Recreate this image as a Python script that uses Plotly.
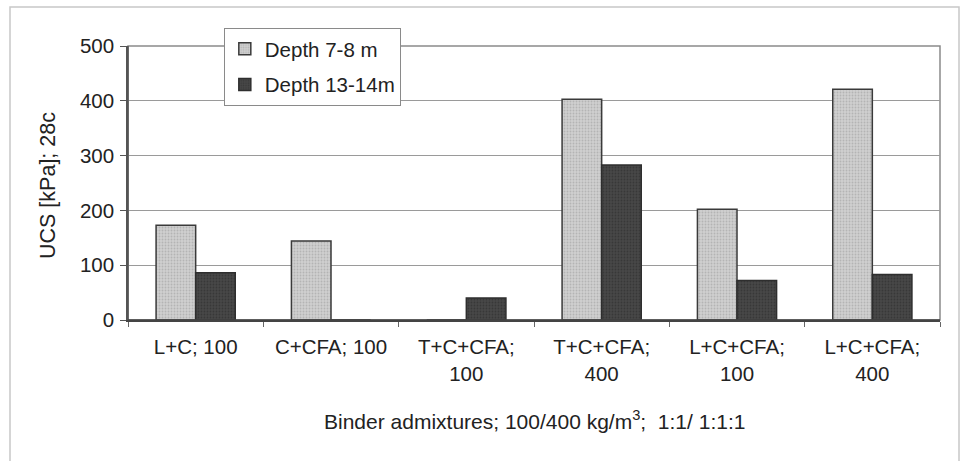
import plotly.graph_objects as go

categories = ["L+C; 100", "C+CFA; 100", "T+C+CFA;<br>100", "T+C+CFA;<br>400", "L+C+CFA;<br>100", "L+C+CFA;<br>400"]
depth_7_8 = [173, 144, 0, 403, 202, 421]
depth_13_14 = [86, 0, 40, 283, 72, 83]
series_names = ["Depth 7-8 m", "Depth 13-14m"]
y_ticks = [0, 100, 200, 300, 400, 500]

FONT = "Liberation Sans, Arial, sans-serif"

fig = go.Figure()
fig.add_trace(go.Bar(
    x=categories, y=depth_7_8, name=series_names[0], legendgroup="a",
    marker=dict(color="#c6c6c6", line=dict(color="#3a3a3a", width=1.5),
                pattern=dict(shape=".", fgcolor="#9a9a9a", bgcolor="#cfcfcf", size=3, solidity=0.3)),
))
fig.add_trace(go.Bar(
    x=categories, y=depth_13_14, name=series_names[1], legendgroup="b",
    marker=dict(color="#3e3e3e", line=dict(color="#2e2e2e", width=1.5),
                pattern=dict(shape=".", fgcolor="#2a2a2a", bgcolor="#474747", size=3, solidity=0.3)),
))

fig.update_layout(
    width=961, height=461,
    margin=dict(l=128, r=21, t=46, b=141),
    paper_bgcolor="white", plot_bgcolor="white",
    font=dict(family=FONT, size=20, color="#222222"),
    barmode="group", bargap=0.415, bargroupgap=0,
    showlegend=True,
    legend=dict(
        x=0.118, y=1.066, xanchor="left", yanchor="top",
        bgcolor="white", bordercolor="#8a8a8a", borderwidth=1,
        font=dict(family=FONT, size=20.5, color="#222222"),
        traceorder="grouped", tracegroupgap=6,
        itemwidth=30,
    ),
    xaxis=dict(
        showgrid=False, tickson="boundaries", ticks="outside", ticklen=5,
        tickcolor="#666666", showline=True, linecolor="#444444", linewidth=1.5,
        mirror=False, tickfont=dict(size=20.5), ticklabelstandoff=8,
    ),
    yaxis=dict(
        range=[0, 500], tickvals=y_ticks, ticks="outside", ticklen=6,
        tickcolor="#555555", showgrid=True, gridcolor="#9a9a9a", gridwidth=1,
        showline=True, linecolor="#555555", linewidth=1.5, mirror=False,
        zeroline=False, tickfont=dict(size=20.5), ticklabelstandoff=2,
    ),
    shapes=[
        dict(type="rect", xref="paper", yref="paper", x0=0, x1=1, y0=0, y1=1,
             line=dict(color="#8a8a8a", width=1.5), layer="below"),
        dict(type="line", xref="paper", yref="paper", x0=0, x1=0, y0=0, y1=1,
             line=dict(color="#555555", width=1.5)),
        dict(type="line", xref="paper", yref="paper", x0=0, x1=1, y0=0, y1=0,
             line=dict(color="#444444", width=1.5)),
        dict(type="rect", xref="paper", yref="paper",
             x0=(10 - 128) / 812, x1=(959 - 128) / 812,
             y0=(320 - 470) / 274, y1=(320 - 7) / 274,
             line=dict(color="#c8c8c8", width=1.5), layer="below"),
    ],
    annotations=[
        dict(text="UCS [kPa]; 28c", textangle=-90, xref="paper", yref="paper",
             x=(48 - 128) / 812, y=(320 - 186) / 274, showarrow=False,
             xanchor="center", yanchor="middle", font=dict(size=21.5)),
        dict(text="Binder admixtures; 100/400 kg/m<sup>3</sup>;  1:1/ 1:1:1",
             xref="paper", yref="paper", x=0.5, y=(320 - 420) / 274,
             showarrow=False, xanchor="center", yanchor="middle", font=dict(size=21)),
    ],
)

fig.write_html("out.html")
